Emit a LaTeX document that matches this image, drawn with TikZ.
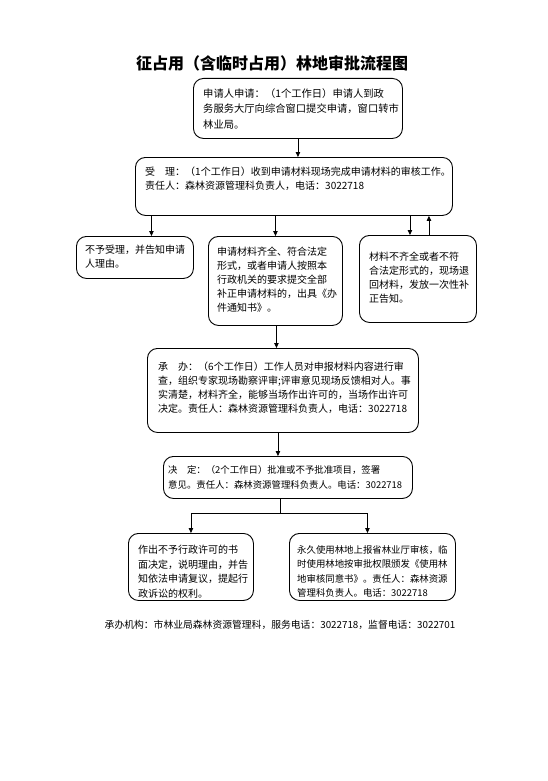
\documentclass[tikz,border=0pt]{standalone}
\usepackage{fontspec}
\setmainfont{Noto Sans CJK SC}
\usetikzlibrary{arrows.meta}
\begin{document}
\begin{tikzpicture}[x=1pt,y=-1pt,
  box/.style={draw=black, line width=0.9pt, rounded corners=10pt, inner sep=0pt, anchor=north west},
  txt/.style={anchor=north west, inner sep=0pt, align=left, font=\fontsize{10pt}{14pt}\selectfont},
  arr/.style={line width=0.8pt, -{Triangle[length=5pt,width=4.5pt]}},
  ln/.style={line width=0.8pt}]
\useasboundingbox[fill=white] (0,0) rectangle (548,781);
\node[anchor=center, inner sep=0pt, font=\fontsize{16pt}{18pt}\selectfont\bfseries] (title) at (272,63) {征占用（含临时占用）林地审批流程图};

\node[box, minimum width=209pt, minimum height=60pt] (b1) at (193,78) {};
\node[txt, font=\fontsize{10.3pt}{15.5pt}\selectfont] (t1) at (203,88) {申请人申请：（1个工作日）申请人到政\\务服务大厅向综合窗口提交申请，窗口转市\\林业局。};

\node[box, minimum width=317pt, minimum height=58pt] (b2) at (135,157) {};
\node[txt] (t2) at (145,167) {受　理：（1个工作日）收到申请材料现场完成申请材料的审核工作。\\责任人：森林资源管理科负责人，电话：3022718};

\node[box, minimum width=117pt, minimum height=42pt] (l) at (76,236) {};
\node[txt] (tl) at (85,245) {不予受理，并告知申请\\人理由。};

\node[box, minimum width=134pt, minimum height=89pt] (m) at (208,236) {};
\node[txt] (tm) at (217,247) {申请材料齐全、符合法定\\形式，或者申请人按照本\\行政机关的要求提交全部\\补正申请材料的，出具《办\\件通知书》。};

\node[box, minimum width=117pt, minimum height=87pt] (r) at (359,235) {};
\node[txt] (tr) at (369,252) {材料不齐全或者不符\\合法定形式的，现场退\\回材料，发放一次性补\\正告知。};

\node[box, minimum width=271pt, minimum height=84pt] (c) at (147,348) {};
\node[txt] (tc) at (158,362) {承　办：（6个工作日）工作人员对申报材料内容进行审\\查，组织专家现场勘察评审;评审意见现场反馈相对人。事\\实清楚，材料齐全，能够当场作出许可的，当场作出许可\\决定。责任人：森林资源管理科负责人，电话：3022718};

\node[box, minimum width=249pt, minimum height=42pt] (d) at (163,456) {};
\node[txt, font=\fontsize{9.4pt}{15pt}\selectfont] (td) at (168,465) {决　定：（2个工作日）批准或不予批准项目，签署\\意见。责任人：森林资源管理科负责人。电话：3022718};

\node[box, minimum width=125pt, minimum height=67pt] (bl) at (128,533) {};
\node[txt, font=\fontsize{10pt}{14.5pt}\selectfont] (tbl) at (138,545) {作出不予行政许可的书\\面决定，说明理由，并告\\知依法申请复议，提起行\\政诉讼的权利。};

\node[box, minimum width=166pt, minimum height=67pt] (br) at (289,533) {};
\node[txt, font=\fontsize{9.4pt}{14.5pt}\selectfont] (tbr) at (297,545) {永久使用林地上报省林业厅审核，临\\时使用林地按审批权限颁发《使用林\\地审核同意书》。责任人：森林资源\\管理科负责人。电话：3022718};

\node[anchor=center, inner sep=0pt, font=\fontsize{9.8pt}{12pt}\selectfont] (foot) at (280,625) {承办机构：市林业局森林资源管理科，服务电话：3022718，监督电话：3022701};

\draw[arr] (b1.south) -- (b1.south |- b2.north);
\draw[arr] ([xshift=16.5pt]l.north |- b2.south) -- ([xshift=16.5pt]l.north);
\draw[arr] (m.north |- b2.south) -- (m.north);
\draw[arr] ([xshift=-8pt]r.north |- b2.south) -- ([xshift=-8pt]r.north);
\draw[arr] ([xshift=11pt]r.north) -- ([xshift=11pt]r.north |- b2.south);
\draw[arr] ([xshift=1pt]m.south) -- ([xshift=1pt]m.south |- c.north);
\draw[arr] ([xshift=-5pt]c.south) -- ([xshift=-5pt]c.south |- d.north);
\coordinate (j) at (280,513);
\draw[ln] (d.south -| j) -- (j);
\draw[arr] (j) -| (bl.north);
\draw[arr] (j) -| ([xshift=-5pt]br.north);
\end{tikzpicture}
\end{document}
